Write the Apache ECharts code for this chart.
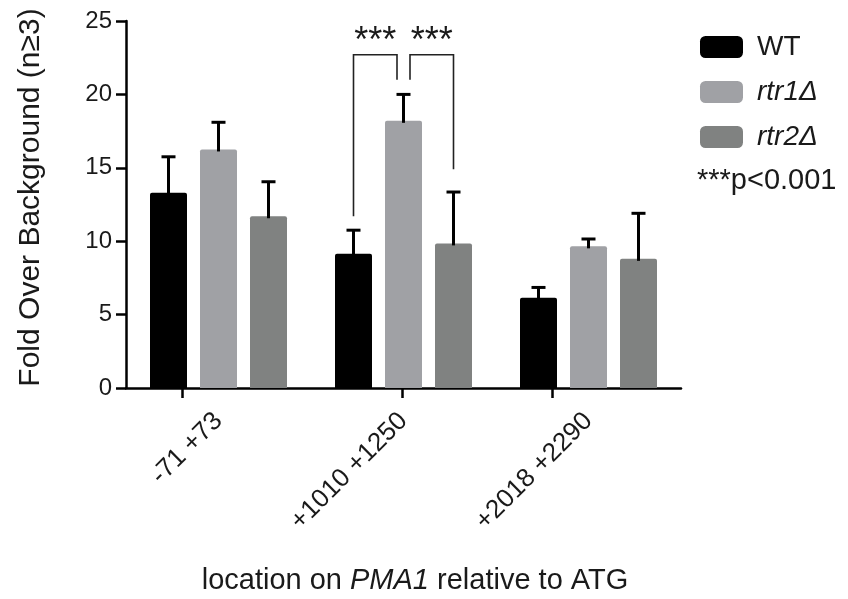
<!DOCTYPE html>
<html><head><meta charset="utf-8">
<script src="https://cdn.jsdelivr.net/npm/echarts@6/dist/echarts.min.js"></script>
<style>html,body{margin:0;padding:0;background:#fff}#c{width:848px;height:599px}</style>
</head><body><div id="c"></div>
<script>
// ---- data ----
const categories = ['-71 +73', '+1010 +1250', '+2018 +2290'];
const seriesNames = ['WT', 'rtr1Δ', 'rtr2Δ'];
const wtMean = [13.3, 9.15, 6.15];
const wtSD = [2.45, 1.6, 0.7];
const rtr1Mean = [16.25, 18.2, 9.65];
const rtr1SD = [1.85, 1.8, 0.5];
const rtr2Mean = [11.7, 9.85, 8.8];
const rtr2SD = [2.35, 3.5, 3.1];
const yMin = 0, yMax = 25, yInterval = 5;
const xTickPositions = [0.303, 1.494, 2.304];
const brackets = [
  [1, 22.7, 11.7, 21.0, 0, 1],
  [1, 22.7, 21.0, 14.9, 1, 2]
];
const bracketLabel = '***';
const noteText = '***p<0.001';
const yTitle = 'Fold Over Background (n≥3)';

// ---- style ----
const FONT = '"Liberation Sans", Arial, Helvetica, sans-serif';
const colors = ['#000000', '#a0a1a5', '#808281'];
const BAR_W = 37, BAR_GAP = 13, STEP = BAR_W + BAR_GAP, CAP = 14, INNER = 6.5;

function errSeries(idx, means, sds) {
  return {
    type: 'custom', name: seriesNames[idx] + ' sd', z: 5, silent: true,
    encode: { x: 0, y: [1, 2] },
    data: means.map((m, i) => [i, m, m + sds[i]]),
    renderItem(params, api) {
      const c = api.value(0);
      const base = api.coord([c, api.value(1)]);
      const top = api.coord([c, api.value(2)]);
      const x = base[0] + (idx - 1) * STEP;
      const st = { stroke: '#000', lineWidth: 3 };
      return { type: 'group', children: [
        { type: 'line', shape: { x1: x, y1: base[1] + 2, x2: x, y2: top[1] }, style: st },
        { type: 'line', shape: { x1: x - CAP / 2, y1: top[1], x2: x + CAP / 2, y2: top[1] }, style: st }
      ]};
    }
  };
}

function barSeries(idx, means) {
  return {
    type: 'bar', name: seriesNames[idx], data: means, barWidth: BAR_W,
    barGap: (BAR_GAP / BAR_W * 100) + '%',
    itemStyle: { color: colors[idx], borderRadius: [2, 2, 0, 0] }, z: 2
  };
}

const chart = echarts.init(document.getElementById('c'), null, { renderer: 'canvas' });
chart.setOption({
  animation: false,
  backgroundColor: '#fff',
  textStyle: { fontFamily: FONT },
  grid: { left: 126, right: 167, top: 21, bottom: 211, outerBoundsMode: 'none', containLabel: false },
  xAxis: [{
    type: 'category', data: categories,
    axisLine: { lineStyle: { color: '#000', width: 2.5 } },
    axisTick: { show: false },
    axisLabel: { rotate: 45, fontSize: 26, margin: 29, color: '#1a1a1a', fontFamily: FONT }
  }, {
    type: 'value', min: 0, max: 3, position: 'bottom',
    axisLine: { show: false }, axisLabel: { show: false }, splitLine: { show: false },
    axisTick: { show: true, customValues: xTickPositions, length: 10, lineStyle: { color: '#000', width: 2.5 } }
  }],
  yAxis: {
    type: 'value', min: yMin, max: yMax, interval: yInterval,
    name: yTitle, nameLocation: 'middle', nameGap: 80, nameRotate: 90,
    nameTextStyle: { fontSize: 30, color: '#1a1a1a', fontFamily: FONT, padding: [0, 0, 0, 14] },
    axisLine: { show: true, lineStyle: { color: '#000', width: 2.5 } },
    axisTick: { show: true, length: 10, lineStyle: { color: '#000', width: 2.5 } },
    axisLabel: { fontSize: 24, margin: 14, color: '#1a1a1a', fontFamily: FONT },
    splitLine: { show: false }
  },
  legend: {
    data: seriesNames, orient: 'vertical', left: 695, top: 28,
    itemWidth: 43, itemHeight: 22, itemGap: 17, icon: 'roundRect',
    selectedMode: false,
    formatter: n => n === 'WT' ? '{n|' + n + '}' : '{i|' + n + '}',
    textStyle: {
      rich: {
        n: { fontSize: 28, fontFamily: FONT, color: '#1a1a1a', padding: [0, 0, 0, 9], lineHeight: 22 },
        i: { fontSize: 28, fontFamily: FONT, fontStyle: 'italic', color: '#1a1a1a', padding: [0, 0, 0, 9], lineHeight: 22 }
      }
    }
  },
  title: {
    text: '{n|location on }{i|PMA1}{n| relative to ATG}',
    left: 410, top: 561, textAlign: 'center',
    textStyle: {
      fontWeight: 'normal',
      rich: {
        n: { fontSize: 29, fontFamily: FONT, fontWeight: 'normal', color: '#1a1a1a' },
        i: { fontSize: 29, fontFamily: FONT, fontWeight: 'normal', fontStyle: 'italic', color: '#1a1a1a' }
      }
    }
  },
  graphic: [{
    type: 'text', left: 697, top: 166,
    style: { text: noteText, font: '29px ' + FONT, fill: '#1a1a1a' }
  }],
  series: [
    barSeries(0, wtMean), barSeries(1, rtr1Mean), barSeries(2, rtr2Mean),
    errSeries(0, wtMean, wtSD), errSeries(1, rtr1Mean, rtr1SD), errSeries(2, rtr2Mean, rtr2SD),
    {
      type: 'custom', name: 'brackets', z: 6, silent: true,
      encode: { x: 0, y: [1, 2, 3] },
      data: brackets,
      renderItem(params, api) {
        const c = api.value(0), from = api.value(4), to = api.value(5);
        const cx = api.coord([c, 0])[0];
        const yT = api.coord([c, api.value(1)])[1];
        const yL = api.coord([c, api.value(2)])[1];
        const yR = api.coord([c, api.value(3)])[1];
        const xL = cx + (from - 1) * STEP + (from === 1 ? INNER : 0);
        const xR = cx + (to - 1) * STEP - (to === 1 ? INNER : 0);
        return { type: 'group', children: [
          { type: 'polyline', shape: { points: [[xL, yL], [xL, yT], [xR, yT], [xR, yR]] },
            style: { stroke: '#222', lineWidth: 1.6, fill: null } },
          { type: 'text', x: (xL + xR) / 2, y: yT - 13,
            style: { text: bracketLabel, font: '36px ' + FONT, fill: '#1a1a1a', align: 'center', verticalAlign: 'middle' } }
        ]};
      }
    }
  ]
});
</script></body></html>
